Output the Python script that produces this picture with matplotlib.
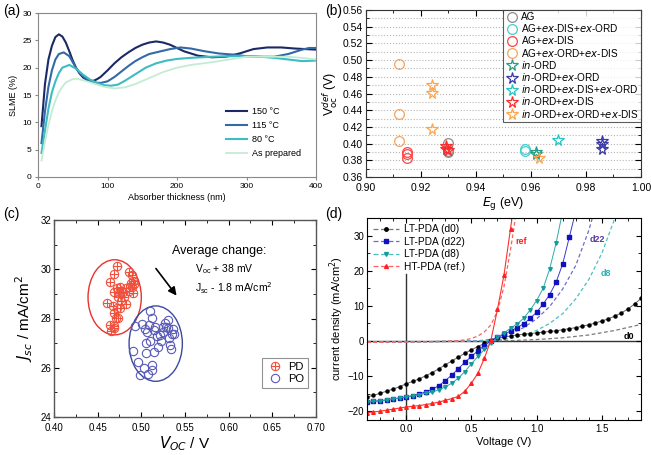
import matplotlib
matplotlib.use("Agg")
import matplotlib.pyplot as plt
from matplotlib.patches import Ellipse
from matplotlib.lines import Line2D
import numpy as np

# ---------------- (a) SLME vs absorber thickness ----------------
t_150 = [5, 10, 15, 20, 25, 30, 35, 40, 45, 50, 55, 60, 65, 70, 75, 80, 85, 90, 100, 110,
         120, 130, 140, 150, 160, 170, 180, 190, 210, 230, 250, 270, 290, 310, 330, 350, 370, 400]
slme_150 = [9.3, 17, 21.5, 24, 25.6, 26.1, 25.7, 24.6, 23.0, 21.3, 19.9, 18.9, 18.2, 17.8, 17.6, 17.6,
            17.9, 18.3, 19.5, 20.8, 21.9, 22.8, 23.6, 24.2, 24.6, 24.8, 24.6, 24.2, 23.0, 22.2,
            21.9, 22.0, 22.6, 23.4, 23.7, 23.7, 23.5, 23.3]
t_115 = [5, 10, 15, 20, 25, 30, 37, 45, 50, 55, 60, 70, 80, 90, 100, 110, 120, 130, 140, 150,
         160, 170, 180, 190, 205, 220, 240, 260, 280, 300, 320, 340, 360, 380, 390, 400]
slme_115 = [6.2, 12, 16.5, 19.5, 21.5, 22.5, 22.8, 22.1, 21.0, 19.9, 19.0, 17.9, 17.3, 17.2, 17.5,
            18.3, 19.3, 20.3, 21.2, 21.9, 22.5, 22.8, 23.1, 23.4, 23.7, 23.5, 23.0, 22.6, 22.4,
            22.1, 22.0, 22.0, 22.5, 23.3, 23.6, 23.6]
t_80 = [5, 10, 15, 20, 25, 30, 35, 45, 55, 65, 75, 85, 95, 105, 115, 125, 140, 155, 170, 185,
        200, 220, 250, 280, 300, 320, 340, 360, 380, 400]
slme_80 = [4.4, 8.5, 12.5, 15.5, 17.5, 19.0, 20.0, 20.5, 19.8, 18.7, 17.8, 17.2, 16.8, 16.7, 16.9,
           17.6, 18.8, 20.0, 20.8, 21.3, 21.6, 21.8, 22.0, 22.1, 22.1, 22.0, 21.8, 21.5, 21.2, 21.3]
t_prep = [5, 10, 15, 20, 25, 30, 35, 40, 50, 55, 65, 80, 95, 110, 125, 140, 160, 180, 200, 220,
          250, 280, 300, 330, 360, 380, 400]
slme_prep = [3.0, 6.5, 9.5, 12.0, 14.0, 15.5, 16.5, 17.3, 17.9, 18.0, 17.7, 17.1, 16.5, 16.2, 16.4,
             17.0, 18.1, 19.2, 20.0, 20.5, 21.0, 21.6, 22.0, 22.0, 22.0, 21.8, 21.5]

# ---------------- (b) Voc deficit vs Eg ----------------
b_series = [
    # label, marker, colour, Eg list, Voc list
    ("AG", "o", "#8c8c8c", [0.930, 0.930, 0.930], [0.401, 0.391, 0.390]),
    ("AG+$\\mathit{ex}$-DIS+$\\mathit{ex}$-ORD", "o", "#3fd0d0", [0.958, 0.958], [0.394, 0.391]),
    ("AG+$\\mathit{ex}$-DIS", "o", "#ff4545", [0.915, 0.915, 0.915], [0.390, 0.387, 0.383]),
    ("AG+$\\mathit{ex}$-ORD+$\\mathit{ex}$-DIS", "o", "#f7a35c", [0.912, 0.912, 0.912], [0.495, 0.436, 0.403]),
    ("$\\mathit{in}$-ORD", "*", "#2a9d8a", [0.962, 0.962], [0.390, 0.387]),
    ("$\\mathit{in}$-ORD+$\\mathit{ex}$-ORD", "*", "#3a3aa8", [0.986, 0.986, 0.986], [0.403, 0.399, 0.394]),
    ("$\\mathit{in}$-ORD+$\\mathit{ex}$-DIS+$\\mathit{ex}$-ORD", "*", "#22c4c4", [0.970], [0.404]),
    ("$\\mathit{in}$-ORD+$\\mathit{ex}$-DIS", "*", "#ff2a2a", [0.929, 0.929, 0.930], [0.397, 0.394, 0.392]),
    ("$\\mathit{in}$-ORD+$\\mathit{ex}$-ORD+$\\mathit{ex}$-DIS", "*", "#ffa54a",
     [0.924, 0.924, 0.924, 0.963], [0.470, 0.461, 0.418, 0.383]),
]

# ---------------- (c) Jsc vs Voc ----------------
pd_voc = [0.4723, 0.4689, 0.4647, 0.4861, 0.4895, 0.4907, 0.4880, 0.4914, 0.4888, 0.4754, 0.4723,
          0.4685, 0.4792, 0.4830, 0.4861, 0.4907, 0.4807, 0.4734, 0.4604, 0.4823, 0.4761, 0.4677,
          0.4723, 0.4689, 0.4715, 0.4734, 0.4639, 0.4689, 0.4658, 0.4685, 0.4770, 0.4746]
pd_jsc = [30.15, 29.80, 29.49, 29.89, 29.76, 29.51, 29.46, 29.42, 29.29, 29.29, 29.22, 29.08, 29.08,
          29.22, 29.11, 29.02, 28.88, 28.86, 28.64, 28.57, 28.44, 28.52, 28.44, 28.21, 28.01, 28.04,
          27.74, 27.70, 27.51, 27.60, 28.70, 29.02]
po_voc = [0.5098, 0.4926, 0.5010, 0.5086, 0.5128, 0.5155, 0.5040, 0.5060, 0.5147, 0.5178, 0.5212,
          0.5251, 0.5282, 0.5308, 0.5244, 0.5274, 0.5362, 0.5346, 0.5373, 0.5320, 0.5327, 0.5339,
          0.5105, 0.5048, 0.5193, 0.5147, 0.5048, 0.4907, 0.4964, 0.5117, 0.5033, 0.5125, 0.4983,
          0.5079, 0.5300, 0.5228]
po_jsc = [28.30, 27.71, 27.78, 27.74, 28.01, 27.67, 27.56, 27.47, 27.54, 27.27, 27.31, 27.47, 27.67,
          27.93, 27.66, 27.81, 27.58, 27.36, 27.39, 27.20, 26.93, 26.76, 27.09, 27.01, 26.86, 26.62,
          26.58, 26.68, 26.22, 26.13, 25.98, 25.92, 25.72, 25.75, 27.60, 27.07]

# ---------------- (d) J-V curves ----------------
v_d0 = np.linspace(-0.3, 1.8, 43)
j_d0 = [-15.9, -15.5, -14.9, -14.3, -13.7, -13.0, -12.2, -11.5, -10.8, -9.9, -9.0, -7.9, -6.8, -5.7,
        -4.6, -3.5, -2.5, -1.6, -0.7, 0.1, 0.7, 1.1, 1.4, 1.7, 1.9, 2.1, 2.3, 2.5, 2.7, 2.9, 3.2,
        3.5, 3.8, 4.2, 4.6, 5.1, 5.7, 6.3, 7.1, 8.0, 9.1, 10.5, 12.1]
v_d22 = np.linspace(-0.3, 1.3, 33)
j_d22 = [-17.4, -17.2, -17.0, -16.8, -16.5, -16.3, -16.0, -15.6, -15.1, -14.5, -13.8, -12.7, -11.3,
         -9.7, -7.9, -6.1, -4.4, -2.8, -1.3, 0.0, 1.0, 1.9, 2.8, 3.8, 4.9, 6.4, 8.2, 10.5, 13.2,
         16.8, 22.0, 29.5, 37.0]
v_d8 = np.linspace(-0.3, 1.2, 31)
j_d8 = [-17.4, -17.2, -17.0, -16.8, -16.5, -16.2, -15.9, -15.6, -15.3, -14.9, -14.5, -13.9, -13.1,
        -12.0, -10.6, -8.7, -6.5, -4.4, -2.4, -0.5, 1.0, 2.3, 3.6, 4.9, 6.4, 8.8, 11.5, 15.0, 20.5,
        28.0, 37.0]
v_ref = np.linspace(-0.3, 0.85, 24)
j_ref = [-20.4, -20.2, -20.0, -19.7, -19.4, -19.1, -18.8, -18.6, -18.4, -18.1, -17.8, -17.4, -16.9,
         -16.4, -15.8, -14.3, -12.0, -9.2, -4.9, 0.3, 9.0, 18.8, 32.0, 45.0]

v_d0_dark = [-0.3, 0.0, 0.3, 0.6, 0.8, 1.0, 1.2, 1.4, 1.6, 1.8]
j_d0_dark = [-0.3, -0.25, -0.15, 0.0, 0.1, 0.4, 0.9, 1.7, 3.0, 4.7]
v_d22_dark = [-0.3, 0.0, 0.3, 0.5, 0.6, 0.7, 0.8, 0.9, 1.0, 1.1, 1.2, 1.3, 1.4, 1.45]
j_d22_dark = [-0.3, -0.25, -0.15, 0.0, 0.2, 0.8, 2.0, 3.8, 6.3, 9.8, 14.8, 21.5, 31.5, 38.0]
v_d8_dark = [-0.3, 0.0, 0.3, 0.5, 0.6, 0.7, 0.8, 0.9, 1.0, 1.1, 1.2, 1.3, 1.4, 1.5, 1.6]
j_d8_dark = [-0.3, -0.25, -0.15, -0.05, 0.05, 0.2, 0.7, 1.6, 3.0, 5.0, 7.8, 12.0, 17.5, 25.0, 35.0]
v_ref_dark = [-0.3, 0.0, 0.2, 0.3, 0.4, 0.45, 0.5, 0.55, 0.6, 0.65, 0.7, 0.75, 0.8, 0.85]
j_ref_dark = [-0.4, -0.3, -0.2, -0.1, 0.1, 0.3, 0.7, 1.4, 2.6, 4.6, 8.5, 15.5, 26.0, 38.0]

plt.rcParams['font.family'] = ['Liberation Sans', 'DejaVu Sans']
plt.rcParams['mathtext.fontset'] = 'dejavusans'

fig = plt.figure(figsize=(6.51, 4.55), dpi=100)

# ---- panel (a)
ax = fig.add_axes([0.0584, 0.611, 0.427, 0.3604])
ax.plot(t_150, slme_150, color='#1b2a66', lw=1.5, label='150 °C')
ax.plot(t_115, slme_115, color='#3269a6', lw=1.5, label='115 °C')
ax.plot(t_80, slme_80, color='#3dbcc2', lw=1.5, label='80 °C')
ax.plot(t_prep, slme_prep, color='#c3ecd4', lw=1.3, label='As prepared')
ax.set_xlim(0, 400)
ax.set_ylim(0, 30)
ax.set_xticks([0, 100, 200, 300, 400])
ax.set_yticks([0, 5, 10, 15, 20, 25, 30])
ax.tick_params(labelsize=6, length=2.5, color='#888888', pad=2)
for s in ax.spines.values():
    s.set_color('#888888')
    s.set_linewidth(0.8)
ax.set_xlabel('Absorber thickness (nm)', fontsize=6.5, labelpad=2)
ax.set_ylabel('SLME (%)', fontsize=6.5, labelpad=3)
ax.legend(loc='lower right', frameon=False, fontsize=6.5, handlelength=2.4,
          bbox_to_anchor=(0.975, 0.065), labelspacing=0.55, handletextpad=0.5)

# ---- panel (b)
ax = fig.add_axes([0.5622, 0.611, 0.4224, 0.367])
for lab, mk, col, xs, ys in b_series:
    ax.plot(xs, ys, ls='none', marker=mk, mfc='none', mec=col, mew=0.9,
            ms=7 if mk == 'o' else 8.5, label=lab)
ax.set_xlim(0.90, 1.00)
ax.set_ylim(0.36, 0.56)
ax.set_xticks(np.arange(0.90, 1.001, 0.02))
ax.set_xticks(np.arange(0.90, 1.001, 0.01), minor=True)
ax.set_yticks(np.arange(0.36, 0.561, 0.02))
ax.set_yticks(np.arange(0.36, 0.561, 0.01), minor=True)
ax.xaxis.set_major_formatter(matplotlib.ticker.FormatStrFormatter('%.2f'))
ax.yaxis.set_major_formatter(matplotlib.ticker.FormatStrFormatter('%.2f'))
ax.yaxis.grid(True, which='both', ls=':', color='#b5b5b5', lw=0.8)
ax.set_axisbelow(True)
ax.tick_params(which='both', direction='in', top=True, right=True, labelsize=7.5, pad=2)
ax.tick_params(axis='x', pad=4)
ax.tick_params(which='major', length=4)
ax.tick_params(which='minor', length=2)
for s in ax.spines.values():
    s.set_color('#333333')
ax.set_xlabel('$E_\\mathrm{g}$ (eV)', fontsize=9, labelpad=2)
ax.set_ylabel('V$_\\mathrm{oc}^{\\mathit{def}}$ (V)', fontsize=9, labelpad=2)
leg = ax.legend(loc='upper right', fontsize=7.2, borderaxespad=0, fancybox=False,
                edgecolor='#333333', labelspacing=0.02, handletextpad=0.3,
                handlelength=1.3, borderpad=0.2)
leg.get_frame().set_linewidth(0.8)

# ---- panel (c)
ax = fig.add_axes([0.0829, 0.0835, 0.4025, 0.433])
h_pd1, = ax.plot(pd_voc, pd_jsc, ls='none', marker='o', mfc='none', mec='#f0503c', ms=6, mew=0.8)
h_pd2, = ax.plot(pd_voc, pd_jsc, ls='none', marker='+', color='#f0503c', ms=6, mew=0.8)
h_po, = ax.plot(po_voc, po_jsc, ls='none', marker='o', mfc='none', mec='#5a5ab8', ms=6, mew=0.8)
ax.add_patch(Ellipse((0.4695, 28.86), 0.061, 3.05, fill=False, ec='#e8322e', lw=1.0))
ax.add_patch(Ellipse((0.5165, 26.98), 0.061, 3.06, fill=False, ec='#3a4aa0', lw=1.0))
ax.annotate('', xy=(0.5423, 28.84), xytext=(0.5148, 30.12),
            arrowprops=dict(arrowstyle='-|>', color='black', lw=1.2, mutation_scale=12))
ax.text(0.5347, 30.73, 'Average change:', fontsize=9, ha='left', va='center')
ax.text(0.5615, 29.99, 'V$_{\\mathregular{oc}}$ + 38 mV', fontsize=7.5, ha='left', va='center')
ax.text(0.5615, 29.22, 'J$_{\\mathregular{sc}}$ - 1.8 mA/cm$^2$', fontsize=7.5, ha='left', va='center')
ax.set_xlim(0.40, 0.70)
ax.set_ylim(24, 32)
ax.set_xticks(np.arange(0.40, 0.701, 0.05))
ax.set_xticks(np.arange(0.40, 0.701, 0.025), minor=True)
ax.set_yticks([24, 26, 28, 30, 32])
ax.set_yticks(np.arange(24, 32.1, 1), minor=True)
ax.xaxis.set_major_formatter(matplotlib.ticker.FormatStrFormatter('%.2f'))
ax.tick_params(which='both', direction='in', top=True, right=True, labelsize=7, pad=2)
ax.tick_params(axis='x', pad=4)
ax.tick_params(which='major', length=3.5)
ax.tick_params(which='minor', length=2)
for s in ax.spines.values():
    s.set_color('#555555')
    s.set_linewidth(1.0)
ax.set_xlabel('$V_{OC}$ / V', fontsize=11, labelpad=1)
ax.set_ylabel('$J_{sc}$ / mA/cm$^2$', fontsize=11, labelpad=4)
leg = ax.legend([(h_pd1, h_pd2), h_po], ['PD', 'PO'], loc='lower right', fontsize=8,
                fancybox=False, edgecolor='#777777', bbox_to_anchor=(0.99, 0.12),
                handletextpad=0.4, borderpad=0.35, labelspacing=0.2, handlelength=1.6)
leg.get_frame().set_linewidth(0.8)

# ---- panel (d)
ax = fig.add_axes([0.5637, 0.0769, 0.421, 0.444])
ax.axhline(0, color='#333333', lw=1.0, zorder=1)
ax.plot([0, 0], [-22.5, 19], color='#333333', lw=1.0, zorder=1)
ax.plot(v_d0_dark, j_d0_dark, ls='--', dashes=(3, 2), color='#7a7a7a', lw=0.9)
ax.plot(v_d22_dark, j_d22_dark, ls='--', dashes=(3, 2), color='#6c6cd0', lw=0.9)
ax.plot(v_d8_dark, j_d8_dark, ls='--', dashes=(3, 2), color='#4fc0c0', lw=0.9)
ax.plot(v_ref_dark, j_ref_dark, ls='--', dashes=(3, 2), color='#ff6060', lw=0.9)
ax.plot(v_d0, j_d0, color='#666666', lw=0.7, marker='o', ms=2.2, mfc='black', mec='black')
ax.plot(v_d22, j_d22, color='#3a3ad0', lw=0.7, marker='s', ms=2.3, mfc='#1010c0', mec='#1010c0')
ax.plot(v_d8, j_d8, color='#30a8a8', lw=0.7, marker='v', ms=2.6, mfc='#179a9a', mec='#179a9a')
ax.plot(v_ref, j_ref, color='#ff3030', lw=0.8, marker='^', ms=2.6, mfc='#ff2020', mec='#ff2020')
ax.text(0.84, 28.3, 'ref', color='#ff2020', fontsize=6.5, fontweight='bold', va='center')
ax.text(1.405, 29.0, 'd22', color='#5a3aa0', fontsize=6.5, fontweight='bold', va='center')
ax.text(1.49, 19.3, 'd8', color='#30b0b0', fontsize=6.5, fontweight='bold', va='center')
ax.text(1.665, 1.4, 'd0', color='black', fontsize=6.5, fontweight='bold', va='center')
ax.set_xlim(-0.3, 1.8)
ax.set_ylim(-22.5, 35)
ax.set_xticks([0.0, 0.5, 1.0, 1.5])
ax.set_xticks(np.arange(-0.2, 1.81, 0.1), minor=True)
ax.set_yticks([-20, -10, 0, 10, 20, 30])
ax.set_yticks(np.arange(-20, 35, 5), minor=True)
ax.tick_params(which='both', direction='in', top=True, right=True, labelsize=7, pad=2)
ax.tick_params(axis='x', pad=3)
ax.tick_params(which='major', length=3.5)
ax.tick_params(which='minor', length=2)
ax.set_xlabel('Voltage (V)', fontsize=8, labelpad=2)
ax.set_ylabel('current density (mA/cm$^2$)', fontsize=8, labelpad=1)
handles = [
    Line2D([], [], color='#777777', ls='--', dashes=(4, 2), lw=0.9, marker='o', ms=2.5,
           mfc='black', mec='black', markevery=[1]),
    Line2D([], [], color='#6c6cd0', ls='--', dashes=(4, 2), lw=0.9, marker='s', ms=2.5,
           mfc='#1010c0', mec='#1010c0', markevery=[1]),
    Line2D([], [], color='#4fc0c0', ls='--', dashes=(4, 2), lw=0.9, marker='v', ms=2.8,
           mfc='#179a9a', mec='#179a9a', markevery=[1]),
    Line2D([], [], color='#ff6060', ls='--', dashes=(4, 2), lw=0.9, marker='^', ms=2.8,
           mfc='#ff2020', mec='#ff2020', markevery=[1]),
]
leg = ax.legend(handles, ['LT-PDA (d0)', 'LT-PDA (d22)', 'LT-PDA (d8)', 'HT-PDA (ref.)'],
                loc='upper left', frameon=False, fontsize=7.3, handlelength=2.6,
                borderaxespad=0.2, labelspacing=0.25, handletextpad=0.5)

# panel letters
fig.text(0.005, 0.975, '(a)', fontsize=10, va='center')
fig.text(0.500, 0.975, '(b)', fontsize=10, va='center')
fig.text(0.005, 0.530, '(c)', fontsize=10, va='center')
fig.text(0.500, 0.530, '(d)', fontsize=10, va='center')

fig.savefig('out.png', dpi=100)
